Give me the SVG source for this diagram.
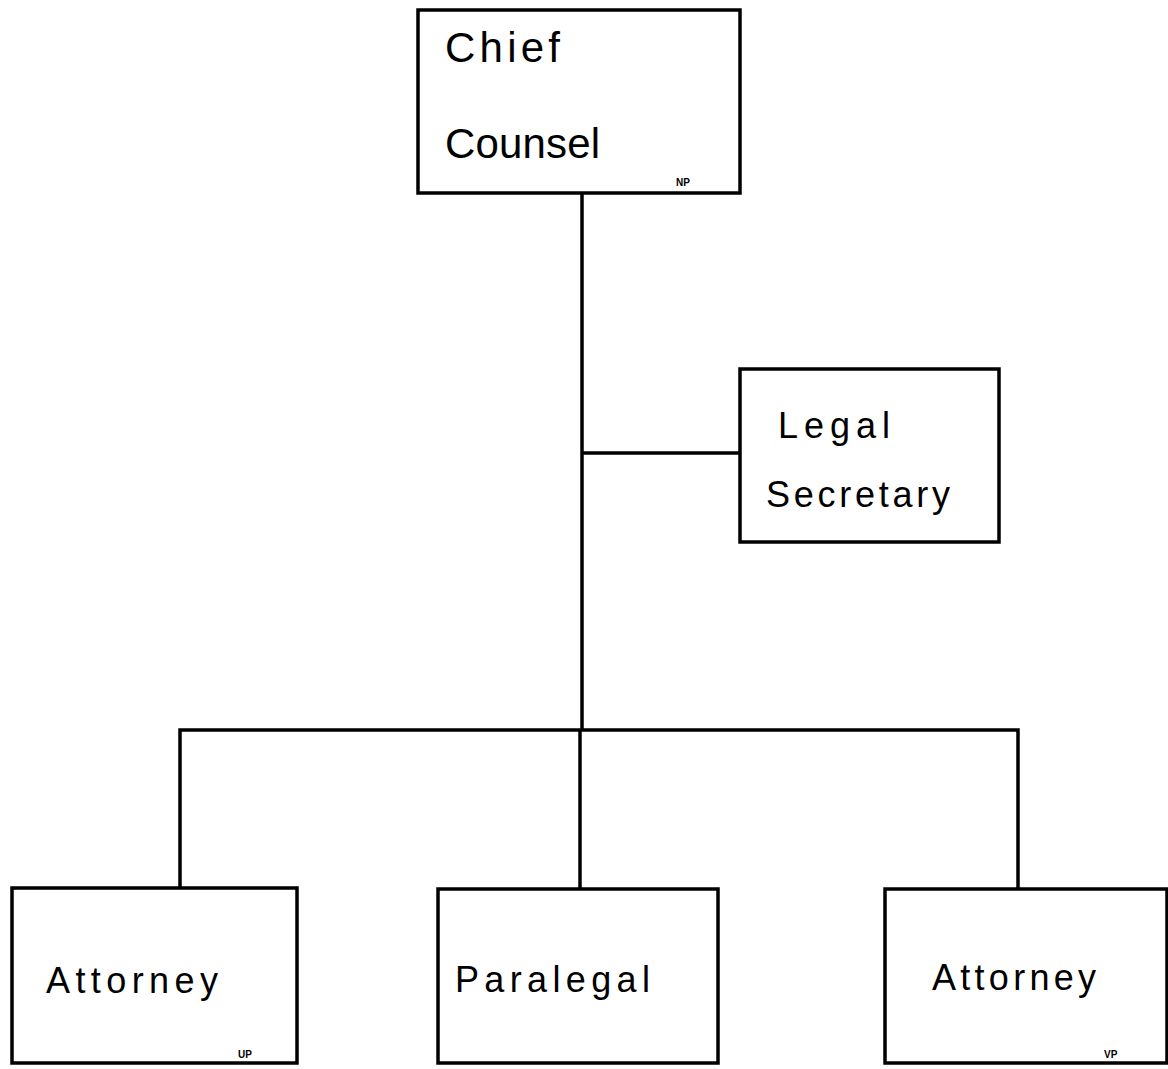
<svg xmlns="http://www.w3.org/2000/svg" width="1168" height="1069" viewBox="0 0 1168 1069">
<style>
.box{fill:#fff;stroke:#000;stroke-width:3.5}
.conn{fill:none;stroke:#000;stroke-width:3.5}
.lbl{font-family:"Liberation Sans",Arial,sans-serif;fill:#000}
.big{font-size:42px}
.mid{font-size:36px}
.tiny{font-size:10px;font-weight:bold}
</style>
<rect width="1168" height="1069" fill="#fff"/>
<g id="connectors">
<path class="conn" d="M582 193 V730"/>
<path class="conn" d="M582 453 H740"/>
<path class="conn" d="M180 888 V730 H1018 V889"/>
<path class="conn" d="M580 730 V889"/>
</g>
<g id="chief-counsel">
<rect class="box" x="418" y="10" width="322" height="183"/>
<text class="lbl big" x="445" y="62" textLength="115">Chief</text>
<text class="lbl big" x="445" y="158" textLength="155">Counsel</text>
<text class="lbl tiny" x="676" y="186">NP</text>
</g>
<g id="legal-secretary">
<rect class="box" x="740" y="369" width="259" height="173"/>
<text class="lbl mid" x="778" y="438" textLength="112">Legal</text>
<text class="lbl mid" x="766" y="507" textLength="184">Secretary</text>
</g>
<g id="attorney-left">
<rect class="box" x="12" y="888" width="285" height="175"/>
<text class="lbl mid" x="46" y="993" textLength="172">Attorney</text>
<text class="lbl tiny" x="238" y="1058">UP</text>
</g>
<g id="paralegal">
<rect class="box" x="438" y="889" width="280" height="174"/>
<text class="lbl mid" x="455" y="992" textLength="195">Paralegal</text>
</g>
<g id="attorney-right">
<rect class="box" x="885" y="889" width="282" height="174"/>
<text class="lbl mid" x="932" y="990" textLength="164">Attorney</text>
<text class="lbl tiny" x="1104" y="1058">VP</text>
</g>
</svg>
